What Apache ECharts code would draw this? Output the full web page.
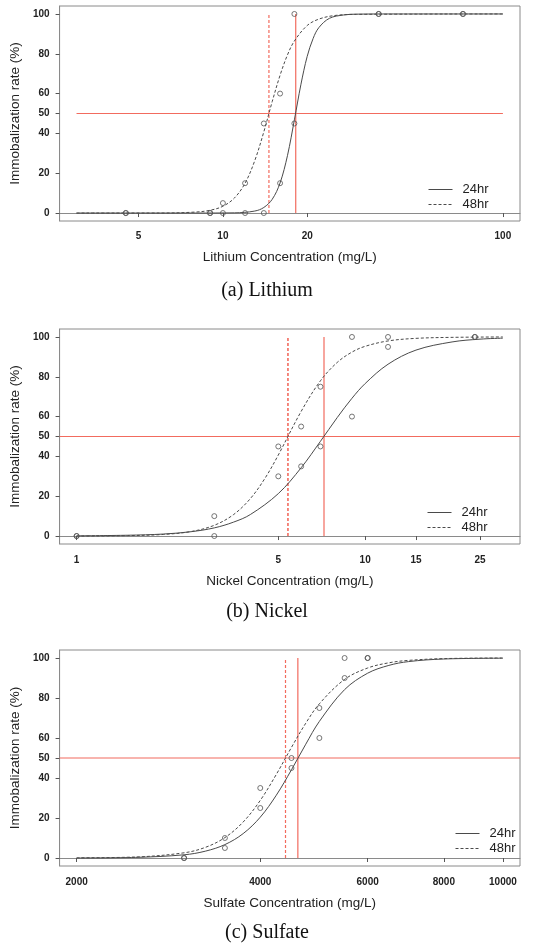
<!DOCTYPE html>
<html>
<head>
<meta charset="utf-8">
<script src="https://cdn.jsdelivr.net/npm/echarts@6/dist/echarts.min.js"></script>
<style>
html,body{margin:0;padding:0;background:#fff;}
#chart{width:534px;height:948px;}
</style>
</head>
<body>
<div id="chart"></div>
<script>
// ---------- shared ----------
const yTicks = [0, 20, 40, 50, 60, 80, 100];
const legendNames = ['24hr', '48hr'];

// ---------- (a) Lithium ----------
const liTicks = [5, 10, 20, 100];
const liConc = [4.5, 9, 10, 12, 14, 16, 18, 36, 72];
const liObs24 = [0, 0, 0, 0, 0, 15, 45, 100, 100];
const liObs48 = [0, 0, 5, 15, 45, 60, 100, 100, 100];
const liFitX24 = [3, 8, 11, 13, 14, 15, 16, 17, 18, 19, 20, 21, 22, 24, 27, 30, 40, 100];
const liFit24 = [0, 0, 0.1, 1.0, 2.8, 6.9, 15.1, 28.8, 46.8, 64.7, 78.7, 87.7, 93.1, 97.8, 99.5, 99.9, 100, 100];
const liFitX48 = [3, 6, 8, 9, 10, 11, 12, 13, 14, 15, 16, 17, 18, 20, 22, 25, 30, 100];
const liFit48 = [0, 0, 0.5, 1.4, 3.4, 7.6, 15.0, 26.4, 40.8, 56.0, 69.2, 79.4, 86.4, 94.2, 97.4, 99.2, 99.8, 100];
const liEC50 = [18.2, 14.6];     // 24hr, 48hr
const liRange = [3, 100];

// ---------- (b) Nickel ----------
const niTicks = [1, 5, 10, 15, 25];
const niConc = [1, 3, 5, 6, 7, 9, 12, 24];
const niObs24 = [0, 0, 30, 35, 45, 60, 95, 100];
const niObs48 = [0, 10, 45, 55, 75, 100, 100, 100];
const niFitX24 = [1, 1.5, 2, 2.5, 3, 3.5, 4, 5, 6, 7, 8, 9, 10, 12, 15, 20, 25, 30];
const niFit24 = [0.1, 0.4, 1.0, 2.2, 4.1, 7.0, 10.8, 21.3, 34.3, 47.6, 59.5, 69.2, 76.6, 86.3, 93.4, 97.5, 98.9, 99.4];
const niFitX48 = [1, 1.5, 2, 2.5, 3, 3.5, 4, 4.5, 5, 6, 7, 8, 9, 10, 12, 15, 20, 30];
const niFit48 = [0, 0.2, 0.8, 2.3, 5.4, 10.8, 18.8, 29.1, 40.7, 62.6, 78.0, 87.2, 92.4, 95.3, 98.0, 99.3, 99.8, 100];
const niEC50 = [7.2, 5.4];

// ---------- (c) Sulfate ----------
const soTicks = [2000, 4000, 6000, 8000, 10000];
const soConc = [3000, 3500, 4000, 4500, 5000, 5500, 6000];
const soObs24 = [0, 5, 25, 45, 60, 90, 100];
const soObs48 = [0, 10, 35, 50, 75, 100, 100];
const soFitX = [2000, 2500, 3000, 3250, 3500, 3750, 4000, 4250, 4500, 4750, 5000, 5500, 6000, 6500, 7000, 8000, 10000];
const soFit24 = [0, 0.3, 1.6, 3.4, 6.7, 12.2, 20.4, 31.4, 44.1, 56.9, 68.3, 84.2, 92.4, 96.3, 98.2, 99.5, 99.9];
const soFit48 = [0.1, 0.5, 2.6, 5.3, 10.2, 18.0, 28.8, 41.8, 55.3, 67.4, 77.1, 89.3, 95.0, 97.6, 98.8, 99.7, 100];
const soEC50 = [4610, 4400];

// ---------- helpers ----------
const zip = (xs, ys) => xs.map((x, i) => [x, ys[i]]);
const FONT = 'Liberation Sans';
const RED = '#f26b5e';
const CURVE = '#4a4a4a';
const DASH = [3, 2];

const panels = [
  { key: 'a', top: 6,   height: 215, xmin: 2.61, xmax: 115.1, ticks: liTicks, name: 'Lithium Concentration (mg/L)',
    labelMargin: 10, nameGap: 29, conc: liConc, o24: liObs24, o48: liObs48,
    fx24: liFitX24, f24: liFit24, fx48: liFitX48, f48: liFit48, ec: liEC50, hRange: liRange,
    legend: { left: 428, top: 183 }, caption: '(a) Lithium', capY: 293 },
  { key: 'b', top: 329, height: 215, xmin: 0.873, xmax: 34.4, ticks: niTicks, name: 'Nickel Concentration (mg/L)',
    labelMargin: 11, nameGap: 30, conc: niConc, o24: niObs24, o48: niObs48,
    fx24: niFitX24, f24: niFit24, fx48: niFitX48, f48: niFit48, ec: niEC50, hRange: null,
    legend: { left: 427, top: 506 }, caption: '(b) Nickel', capY: 614 },
  { key: 'c', top: 650, height: 216, xmin: 1875, xmax: 10665, ticks: soTicks, name: 'Sulfate Concentration (mg/L)',
    labelMargin: 11, nameGap: 30, conc: soConc, o24: soObs24, o48: soObs48,
    fx24: soFitX, f24: soFit24, fx48: soFitX, f48: soFit48, ec: soEC50, hRange: null,
    legend: { left: 455, top: 827 }, caption: '(c) Sulfate', capY: 935 }
];

const grid = [], xAxis = [], yAxis = [], series = [], legend = [], graphic = [];
panels.forEach((p, i) => {
  grid.push({ left: 53.5, top: p.top, width: 466.5, height: p.height,
    show: true, borderColor: '#8a8a8a', borderWidth: 1, backgroundColor: 'transparent' });
  xAxis.push({ type: 'log', logBase: 10, gridIndex: i, min: p.xmin, max: p.xmax,
    axisLine: { show: true, lineStyle: { color: '#8a8a8a', width: 1 } },
    axisTick: { show: true, length: 4, customValues: p.ticks, lineStyle: { color: '#555' } },
    axisLabel: { customValues: p.ticks, margin: p.labelMargin, fontSize: 10, fontWeight: 'bold',
      color: '#222', fontFamily: FONT, formatter: v => String(Math.round(v)) },
    splitLine: { show: false }, name: p.name, nameLocation: 'middle', nameGap: p.nameGap,
    nameTextStyle: { fontSize: 13.5, color: '#222', fontFamily: FONT } });
  yAxis.push({ type: 'value', gridIndex: i, min: -4, max: 104,
    axisLine: { show: true, lineStyle: { color: '#8a8a8a', width: 1 } },
    axisTick: { show: true, length: 4, customValues: yTicks, lineStyle: { color: '#555' } },
    axisLabel: { customValues: yTicks, margin: 10, fontSize: 10, fontWeight: 'bold', color: '#222', fontFamily: FONT },
    splitLine: { show: false }, name: 'Immobalization rate (%)', nameLocation: 'middle', nameGap: 35,
    nameTextStyle: { fontSize: 13.5, color: '#222', fontFamily: FONT } });

  const base = { xAxisIndex: i, yAxisIndex: i, silent: true, animation: false };
  const hx = p.hRange ? p.hRange : [p.xmin, p.xmax];
  const redLine = (nm, data, extra) => Object.assign({}, base, {
    type: 'line', name: nm + p.key, symbol: 'none', z: 2, color: RED, data: data,
    lineStyle: Object.assign({ color: RED, width: 1.2 }, extra || {}) });
  // reference lines: 50% level and EC50 of each exposure time
  series.push(redLine('ref50', [[hx[0], 50], [hx[1], 50]]));
  series.push(redLine('ec24', [[p.ec[0], 0], [p.ec[0], 100]]));
  series.push(redLine('ec48', [[p.ec[1], 0], [p.ec[1], 100]], { type: DASH, width: i === 1 ? 1.6 : 1.2 }));
  // fitted curves
  series.push(Object.assign({}, base, { type: 'line', name: '24hr', symbol: 'none', smooth: 0.35, z: 3, color: CURVE,
    data: zip(p.fx24, p.f24), lineStyle: { color: CURVE, width: 1 } }));
  series.push(Object.assign({}, base, { type: 'line', name: '48hr', symbol: 'none', smooth: 0.35, z: 3, color: CURVE,
    data: zip(p.fx48, p.f48), lineStyle: { color: CURVE, width: 1, type: DASH } }));
  // observations
  [p.o24, p.o48].forEach((obs, k) => {
    series.push(Object.assign({}, base, { type: 'scatter', name: 'obs' + k + p.key, symbol: 'circle', symbolSize: 5, z: 4,
      data: zip(p.conc, obs), itemStyle: { color: 'rgba(0,0,0,0)', borderColor: '#555', borderWidth: 1 } }));
  });

  legend.push({ data: legendNames, orient: 'vertical', left: p.legend.left, top: p.legend.top,
    itemWidth: 24, itemHeight: 14, itemGap: 2, padding: 0, selectedMode: false,
    itemStyle: { opacity: 0 }, lineStyle: { width: 1, color: CURVE },
    textStyle: { fontSize: 13, color: '#222', fontFamily: FONT, padding: [0, 0, 0, 5] } });

  graphic.push({ type: 'text', left: 'center', top: p.capY - 12,
    style: { text: p.caption, font: '20px "Liberation Serif"', fill: '#111' } });
});

const chart = echarts.init(document.getElementById('chart'), null, { renderer: 'canvas' });
chart.setOption({ animation: false, backgroundColor: '#fff', grid, xAxis, yAxis, series, legend, graphic });
</script>
</body>
</html>
